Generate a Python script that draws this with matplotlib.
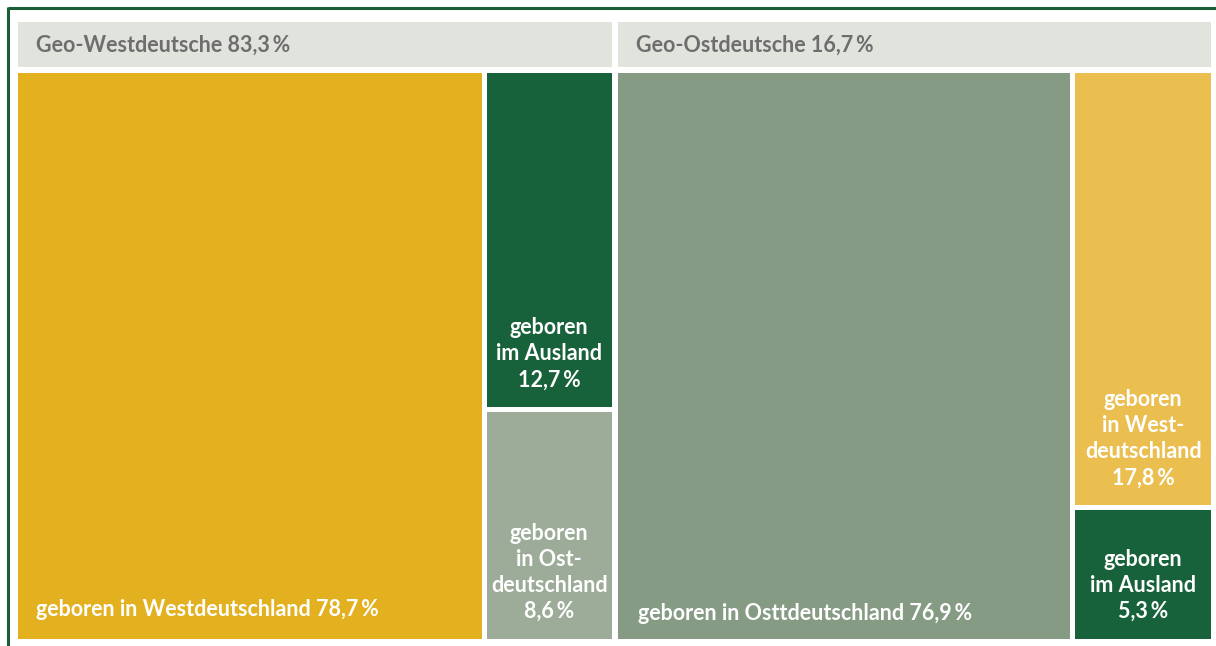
import matplotlib.pyplot as plt
from matplotlib.patches import Rectangle

plt.rcParams['font.family'] = ['Lato', 'DejaVu Sans']

# Daten
group_names = ['Geo-Westdeutsche', 'Geo-Ostdeutsche']
group_share = [83.3, 16.7]
main_labels = ['geboren in Westdeutschland', 'geboren in Osttdeutschland']
main_share = [78.7, 76.9]
side_labels = [['geboren\nim Ausland', 'geboren\nin Ost-\ndeutschland'],
               ['geboren\nin West-\ndeutschland', 'geboren\nim Ausland']]
side_share = [[12.7, 8.6], [17.8, 5.3]]

main_colors = ['#E3B11F', '#859B84']
side_colors = [['#17623A', '#9CAC98'], ['#EBBE50', '#17623A']]
head_color = '#E1E3DD'
frame_color = '#1A5E38'

def pct(v):
    return f'{v:.1f}'.replace('.', ',') + '\u2009%'

fig = plt.figure(figsize=(12.16, 6.46), dpi=100)
ax = fig.add_axes([0, 0, 1, 1])
ax.set_xlim(0, 1216)
ax.set_ylim(646, 0)
ax.axis('off')

# Rahmen
ax.plot([8, 1216], [8, 8], color=frame_color, lw=2.2, solid_capstyle='butt')
ax.plot([8, 8], [7, 646], color=frame_color, lw=2.2, solid_capstyle='butt')

gap = 5
group_x = [(18, 612), (618, 1211)]
head_top, head_bot = 22, 67
top, bottom = 73, 639
fs = 15.5

for i, (x0, x1) in enumerate(group_x):
    ax.add_patch(Rectangle((x0, head_top), x1 - x0, head_bot - head_top,
                           color=head_color, lw=0))
    ax.text(x0 + 18, (head_top + head_bot) / 2 + 1,
            f'{group_names[i]} {pct(group_share[i])}',
            ha='left', va='center', fontsize=fs, fontweight='bold', color='#6E6E6E')

    total = main_share[i] + sum(side_share[i])
    w_main = (x1 - x0 - gap) * main_share[i] / total
    ax.add_patch(Rectangle((x0, top), w_main, bottom - top,
                           color=main_colors[i], lw=0))
    ax.text(x0 + 18 + (2 if i else 0), bottom - 29 + (4 if i else 0),
            f'{main_labels[i]} {pct(main_share[i])}',
            ha='left', va='center', fontsize=fs, fontweight='bold', color='white')

    sx = x0 + w_main + gap
    sw = x1 - sx
    h_avail = bottom - top - gap
    y = top
    for j, v in enumerate(side_share[i]):
        h = h_avail * v / sum(side_share[i])
        ax.add_patch(Rectangle((sx, y), sw, h, color=side_colors[i][j], lw=0))
        ax.text(sx + sw / 2, y + h - 17, f'{side_labels[i][j]}\n{pct(v)}',
                ha='center', va='bottom', fontsize=fs, fontweight='bold',
                color='white', linespacing=1.3)
        y += h + gap

fig.savefig('out.png', dpi=100)
